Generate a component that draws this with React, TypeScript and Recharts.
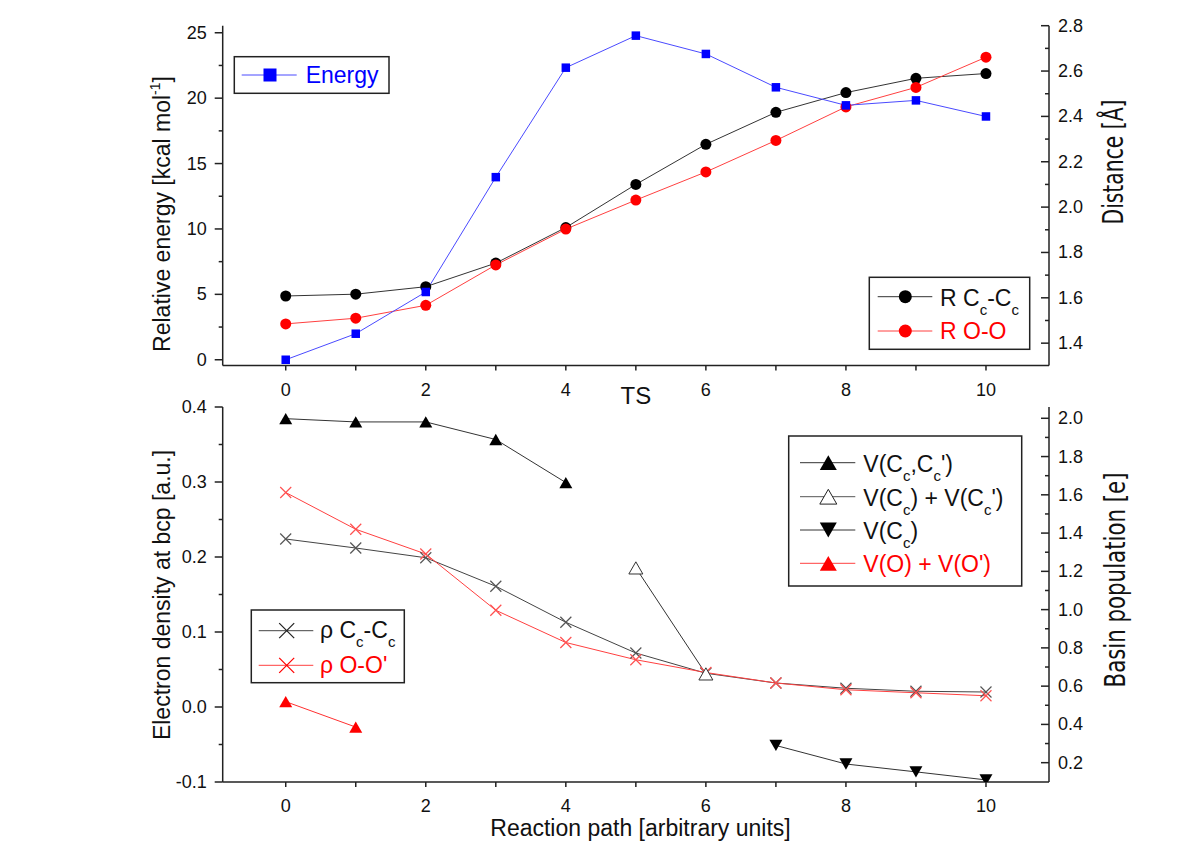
import React from 'react';
import { ComposedChart, Line, XAxis, YAxis } from 'recharts';

// ---------- data ----------
const steps = [0, 1, 2, 3, 4, 5, 6, 7, 8, 9, 10];
const energy = [0, 1.99, 5.18, 13.96, 22.33, 24.78, 23.38, 20.83, 19.45, 19.83, 18.6];
const rCcCc = [1.608, 1.616, 1.649, 1.753, 1.910, 2.100, 2.277, 2.418, 2.505, 2.568, 2.589];
const rOO = [1.485, 1.510, 1.567, 1.745, 1.903, 2.031, 2.155, 2.294, 2.442, 2.528, 2.661];
const rhoCcCc = [0.224, 0.212, 0.199, 0.161, 0.113, 0.072, 0.045, 0.032, 0.025, 0.021, 0.020];
const rhoOO = [0.286, 0.237, 0.204, 0.129, 0.086, 0.063, 0.046, 0.032, 0.023, 0.019, 0.015];
const vCcCc = [1.998, 1.981, 1.981, 1.889, 1.664, null, null, null, null, null, null];
const vCcPlus = [null, null, null, null, null, 1.218, 0.664, null, null, null, null];
const vCc = [null, null, null, null, null, null, null, 0.290, 0.193, 0.152, 0.11];
const vOO = [0.519, 0.386, null, null, null, null, null, null, null, null, null];

const xTicks = [0, 1, 2, 3, 4, 5, 6, 7, 8, 9, 10];
const energyTicks = [0, 2.5, 5, 7.5, 10, 12.5, 15, 17.5, 20, 22.5, 25];
const distTicks = [1.4, 1.5, 1.6, 1.7, 1.8, 1.9, 2.0, 2.1, 2.2, 2.3, 2.4, 2.5, 2.6, 2.7, 2.8];
const rhoTicks = [-0.1, -0.05, 0, 0.05, 0.1, 0.15, 0.2, 0.25, 0.3, 0.35, 0.4];
const popTicks = [0.2, 0.3, 0.4, 0.5, 0.6, 0.7, 0.8, 0.9, 1.0, 1.1, 1.2, 1.3, 1.4, 1.5, 1.6, 1.7, 1.8, 1.9, 2.0];

const topData = steps.map((s, i) => ({ step: s, energy: energy[i], rCcCc: rCcCc[i], rOO: rOO[i] }));
const botData = steps.map((s, i) => ({
  step: s,
  rhoCcCc: rhoCcCc[i],
  rhoOO: rhoOO[i],
  vCcCc: vCcCc[i],
  vCcPlus: vCcPlus[i],
  vCc: vCc[i],
  vOO: vOO[i],
}));

// ---------- styling ----------
const FONT = "'Liberation Sans', Arial, sans-serif";
const NARROW = "'Liberation Sans Narrow', 'DejaVu Sans Condensed', 'Liberation Sans', sans-serif";
const AX = '#222';
const BLUE = '#0000ff';
const RED = '#ff0000';

// ---------- marker shapes ----------
const Square = ({ cx, cy, s, color }: any) => (
  <rect x={cx - s / 2} y={cy - s / 2} width={s} height={s} fill={color} />
);
const Circle = ({ cx, cy, r, color }: any) => <circle cx={cx} cy={cy} r={r} fill={color} />;
const TriUp = ({ cx, cy, w, fill, stroke }: any) => {
  const h = w * 0.87;
  return (
    <polygon
      points={`${cx},${cy - h / 2} ${cx + w / 2},${cy + h / 2} ${cx - w / 2},${cy + h / 2}`}
      fill={fill}
      stroke={stroke}
      strokeWidth={1}
    />
  );
};
const TriDown = ({ cx, cy, w, fill }: any) => {
  const h = w * 0.87;
  return (
    <polygon points={`${cx - w / 2},${cy - h / 2} ${cx + w / 2},${cy - h / 2} ${cx},${cy + h / 2}`} fill={fill} />
  );
};
const Cross = ({ cx, cy, s, color }: any) => (
  <g stroke={color} strokeWidth={1.2}>
    <line x1={cx - s / 2} y1={cy - s / 2} x2={cx + s / 2} y2={cy + s / 2} />
    <line x1={cx - s / 2} y1={cy + s / 2} x2={cx + s / 2} y2={cy - s / 2} />
  </g>
);

const dotFn = (render: (cx: number, cy: number) => React.ReactElement) => (p: any) => {
  if (p.cy == null || p.cx == null || p.value == null || Number.isNaN(p.cy)) return <g key={`n${p.index}`} />;
  return <g key={`d${p.index}`}>{render(p.cx, p.cy)}</g>;
};

// ---------- ticks ----------
const leftTick = (isMajor: (v: number) => boolean, fmt: (v: number) => string) => (p: any) => {
  const v = p.payload.value;
  const major = isMajor(v);
  return (
    <g key={`lt${p.index}`}>
      <line x1={p.x} y1={p.y} x2={p.x - (major ? 8 : 4)} y2={p.y} stroke={AX} strokeWidth={1.5} />
      {major && (
        <text x={p.x - 16} y={p.y} textAnchor="end" dominantBaseline="central" fontSize={18} fontFamily={FONT} fill="#111">
          {fmt(v)}
        </text>
      )}
    </g>
  );
};
const rightTick = (isMajor: (v: number) => boolean, fmt: (v: number) => string) => (p: any) => {
  const v = p.payload.value;
  const major = isMajor(v);
  return (
    <g key={`rt${p.index}`}>
      <line x1={p.x} y1={p.y} x2={p.x - (major ? 8 : 4)} y2={p.y} stroke={AX} strokeWidth={1.5} />
      {major && (
        <text x={p.x + 9} y={p.y} textAnchor="start" dominantBaseline="central" fontSize={18} fontFamily={FONT} fill="#111">
          {fmt(v)}
        </text>
      )}
    </g>
  );
};
const bottomTick = (withTS: boolean) => (p: any) => {
  const v = p.payload.value;
  const even = v % 2 === 0;
  return (
    <g key={`bt${p.index}`}>
      <line x1={p.x} y1={p.y} x2={p.x} y2={p.y + 5} stroke={AX} strokeWidth={1.5} />
      {even && (
        <text x={p.x} y={p.y + 30} textAnchor="middle" fontSize={18} fontFamily={FONT} fill="#111">
          {String(v)}
        </text>
      )}
      {withTS && v === 5 && (
        <text x={p.x} y={p.y + 38} textAnchor="middle" fontSize={24} fontFamily={FONT} fill="#111">
          TS
        </text>
      )}
    </g>
  );
};

const isMul = (v: number, step: number) => Math.abs(Math.round(v / step) * step - v) < 1e-6;
const f1 = (v: number) => v.toFixed(1);

const axisLineStyle = { stroke: AX, strokeWidth: 1.5 };

// ---------- rich text: segments [text, isSubscript] ----------
const SUB_DY = 9;
const Rich = ({ x, y, fill, segs }: { x: number; y: number; fill: string; segs: [string, boolean][] }) => {
  let cur = 0;
  return (
    <text x={x} y={y} fontSize={23} fill={fill} fontFamily={FONT}>
      {segs.map(([t, sub], i) => {
        const target = sub ? SUB_DY : 0;
        const dy = target - cur;
        cur = target;
        return (
          <tspan key={i} dy={dy} fontSize={sub ? 15 : 23}>
            {t}
          </tspan>
        );
      })}
    </text>
  );
};

export default function App() {
  return (
    <div style={{ position: 'absolute', left: 0, top: 0, width: 1200, height: 847, background: '#ffffff', overflow: 'hidden' }}>
      {/* top panel */}
      <div style={{ position: 'absolute', left: 0, top: 0 }}>
        <ComposedChart width={1200} height={410} data={topData} margin={{ top: 25.7, right: 0, bottom: 0, left: 0 }}>
          <XAxis
            dataKey="step"
            type="number"
            domain={[-0.9, 10.9]}
            allowDataOverflow
            ticks={xTicks}
            height={44.5}
            tickSize={0}
            tickMargin={0}
            tickLine={false}
            axisLine={axisLineStyle}
            tick={bottomTick(true)}
            interval={0}
          />
          <YAxis
            yAxisId="e"
            orientation="left"
            type="number"
            domain={[-0.44, 25.54]}
            allowDataOverflow
            ticks={energyTicks}
            width={222.7}
            tickSize={0}
            tickMargin={0}
            tickLine={false}
            axisLine={axisLineStyle}
            tick={leftTick((v) => isMul(v, 5), (v) => String(v))}
            interval={0}
          />
          <YAxis
            yAxisId="d"
            orientation="right"
            type="number"
            domain={[1.3015, 2.8]}
            allowDataOverflow
            ticks={distTicks}
            width={151}
            tickSize={0}
            tickMargin={0}
            tickLine={false}
            axisLine={axisLineStyle}
            tick={rightTick((v) => isMul(v, 0.2), f1)}
            interval={0}
          />
          <Line
            yAxisId="d"
            dataKey="rCcCc"
            stroke="#333"
            strokeWidth={1}
            isAnimationActive={false}
            dot={dotFn((cx, cy) => <Circle cx={cx} cy={cy} r={5.5} color="#000" />)}
            activeDot={false}
          />
          <Line
            yAxisId="d"
            dataKey="rOO"
            stroke="#ff4040"
            strokeWidth={1}
            isAnimationActive={false}
            dot={dotFn((cx, cy) => <Circle cx={cx} cy={cy} r={5.5} color={RED} />)}
            activeDot={false}
          />
          <Line
            yAxisId="e"
            dataKey="energy"
            stroke="#4a4aff"
            strokeWidth={1}
            isAnimationActive={false}
            dot={dotFn((cx, cy) => <Square cx={cx} cy={cy} s={8.5} color={BLUE} />)}
            activeDot={false}
          />
        </ComposedChart>
      </div>

      {/* bottom panel */}
      <div style={{ position: 'absolute', left: 0, top: 390 }}>
        <ComposedChart width={1200} height={457} data={botData} margin={{ top: 17, right: 0, bottom: 0, left: 0 }}>
          <XAxis
            dataKey="step"
            type="number"
            domain={[-0.9, 10.9]}
            allowDataOverflow
            ticks={xTicks}
            height={65}
            tickSize={0}
            tickMargin={0}
            tickLine={false}
            axisLine={axisLineStyle}
            tick={bottomTick(false)}
            interval={0}
          />
          <YAxis
            yAxisId="rho"
            orientation="left"
            type="number"
            domain={[-0.1, 0.4]}
            allowDataOverflow
            ticks={rhoTicks}
            width={222.7}
            tickSize={0}
            tickMargin={0}
            tickLine={false}
            axisLine={axisLineStyle}
            tick={leftTick((v) => isMul(v, 0.1), f1)}
            interval={0}
          />
          <YAxis
            yAxisId="pop"
            orientation="right"
            type="number"
            domain={[0.099, 2.059]}
            allowDataOverflow
            ticks={popTicks}
            width={151}
            tickSize={0}
            tickMargin={0}
            tickLine={false}
            axisLine={axisLineStyle}
            tick={rightTick((v) => isMul(v, 0.2), f1)}
            interval={0}
          />
          <Line
            yAxisId="rho"
            dataKey="rhoCcCc"
            stroke="#444"
            strokeWidth={1}
            isAnimationActive={false}
            dot={dotFn((cx, cy) => <Cross cx={cx} cy={cy} s={11} color="#555" />)}
            activeDot={false}
          />
          <Line
            yAxisId="rho"
            dataKey="rhoOO"
            stroke="#ff4040"
            strokeWidth={1}
            isAnimationActive={false}
            dot={dotFn((cx, cy) => <Cross cx={cx} cy={cy} s={11} color="#ff5050" />)}
            activeDot={false}
          />
          <Line
            yAxisId="pop"
            dataKey="vCcCc"
            stroke="#333"
            strokeWidth={1}
            isAnimationActive={false}
            connectNulls={false}
            dot={dotFn((cx, cy) => <TriUp cx={cx} cy={cy} w={13} fill="#000" />)}
            activeDot={false}
          />
          <Line
            yAxisId="pop"
            dataKey="vCcPlus"
            stroke="#333"
            strokeWidth={1}
            isAnimationActive={false}
            connectNulls={false}
            dot={dotFn((cx, cy) => <TriUp cx={cx} cy={cy} w={14} fill="#fff" stroke="#333" />)}
            activeDot={false}
          />
          <Line
            yAxisId="pop"
            dataKey="vCc"
            stroke="#333"
            strokeWidth={1}
            isAnimationActive={false}
            connectNulls={false}
            dot={dotFn((cx, cy) => <TriDown cx={cx} cy={cy} w={13} fill="#000" />)}
            activeDot={false}
          />
          <Line
            yAxisId="pop"
            dataKey="vOO"
            stroke="#ff3030"
            strokeWidth={1}
            isAnimationActive={false}
            connectNulls={false}
            dot={dotFn((cx, cy) => <TriUp cx={cx} cy={cy} w={13} fill={RED} />)}
            activeDot={false}
          />
        </ComposedChart>
      </div>

      {/* titles and legends */}
      <svg width={1200} height={847} style={{ position: 'absolute', left: 0, top: 0, pointerEvents: 'none' }} fontFamily={FONT}>
        {/* axis titles */}
        <text transform="translate(170,214) rotate(-90)" textAnchor="middle" fontSize={23} fill="#111">
          <tspan>Relative energy [kcal mol</tspan>
          <tspan fontSize={14} dy={-10}>-1</tspan>
          <tspan dy={10}>]</tspan>
        </text>
        <text transform="translate(170,595) rotate(-90)" textAnchor="middle" fontSize={23} fill="#111">
          Electron density at bcp [a.u.]
        </text>
        <text x={640.5} y={836} textAnchor="middle" fontSize={23} fill="#111">
          Reaction path [arbitrary units]
        </text>
        <text
          transform="translate(1123,162) rotate(-90)"
          textAnchor="middle"
          fontSize={28}
          fontFamily={NARROW}
          fill="#111"
          textLength={125}
          lengthAdjust="spacingAndGlyphs"
        >
          Distance [Å]
        </text>
        <text
          transform="translate(1125,580) rotate(-90)"
          textAnchor="middle"
          fontSize={28}
          fontFamily={NARROW}
          fill="#111"
          textLength={215}
          lengthAdjust="spacingAndGlyphs"
        >
          Basin population [e]
        </text>

        {/* Energy legend */}
        <rect x={234.3} y={56.7} width={154.7} height={36.6} fill="#fff" stroke={AX} strokeWidth={1.5} />
        <line x1={241.7} y1={75} x2={296.7} y2={75} stroke="#4a4aff" strokeWidth={1} />
        <Square cx={270} cy={75} s={13} color={BLUE} />
        <text x={305.7} y={83.3} fontSize={23} fill={BLUE}>Energy</text>

        {/* Distance legend */}
        <rect x={869.3} y={277.3} width={160.4} height={72} fill="#fff" stroke={AX} strokeWidth={1.5} />
        <line x1={877.7} y1={296.7} x2={932.3} y2={296.7} stroke="#333" strokeWidth={1} />
        <Circle cx={905.3} cy={296.7} r={6.5} color="#000" />
        <Rich x={940} y={305.7} fill="#111" segs={[['R C', false], ['c', true], ['-C', false], ['c', true]]} />
        <line x1={877.7} y1={331} x2={932.3} y2={331} stroke="#ff4040" strokeWidth={1} />
        <Circle cx={905.3} cy={331} r={6.5} color={RED} />
        <text x={940} y={339.3} fontSize={23} fill={RED}>R O-O</text>

        {/* rho legend */}
        <rect x={251.3} y={610} width={153} height={72.7} fill="#fff" stroke={AX} strokeWidth={1.5} />
        <line x1={258.7} y1={630.7} x2={313.3} y2={630.7} stroke="#444" strokeWidth={1} />
        <Cross cx={286.7} cy={630.7} s={15} color="#222" />
        <Rich x={320} y={638.3} fill="#111" segs={[['ρ C', false], ['c', true], ['-C', false], ['c', true]]} />
        <line x1={258.7} y1={665.3} x2={313.3} y2={665.3} stroke="#ff4040" strokeWidth={1} />
        <Cross cx={286.7} cy={665.3} s={15} color={RED} />
        <text x={320} y={672.7} fontSize={23} fill={RED}>ρ O-O'</text>

        {/* basin legend */}
        <rect x={788.7} y={436} width={233} height={150} fill="#fff" stroke={AX} strokeWidth={1.5} />
        <line x1={800} y1={462.7} x2={855.3} y2={462.7} stroke="#333" strokeWidth={1} />
        <TriUp cx={828.3} cy={462.7} w={17} fill="#000" />
        <Rich x={863.3} y={471.7} fill="#111" segs={[['V(C', false], ['c', true], [',C', false], ['c', true], ["')", false]]} />
        <line x1={800} y1={496.7} x2={855.3} y2={496.7} stroke="#555" strokeWidth={1} />
        <TriUp cx={828.3} cy={496.7} w={17} fill="#fff" stroke="#222" />
        <Rich
          x={863.3}
          y={506}
          fill="#111"
          segs={[['V(C', false], ['c', true], [') + V(C', false], ['c', true], ["')", false]]}
        />
        <line x1={800} y1={530} x2={855.3} y2={530} stroke="#333" strokeWidth={1} />
        <TriDown cx={828.3} cy={530} w={17} fill="#000" />
        <Rich x={863.3} y={539} fill="#111" segs={[['V(C', false], ['c', true], [')', false]]} />
        <line x1={800} y1={563.3} x2={855.3} y2={563.3} stroke="#ff4040" strokeWidth={1} />
        <TriUp cx={828.3} cy={563.3} w={17} fill={RED} />
        <text x={863.3} y={571.7} fontSize={23} fill={RED}>V(O) + V(O')</text>
      </svg>
    </div>
  );
}
